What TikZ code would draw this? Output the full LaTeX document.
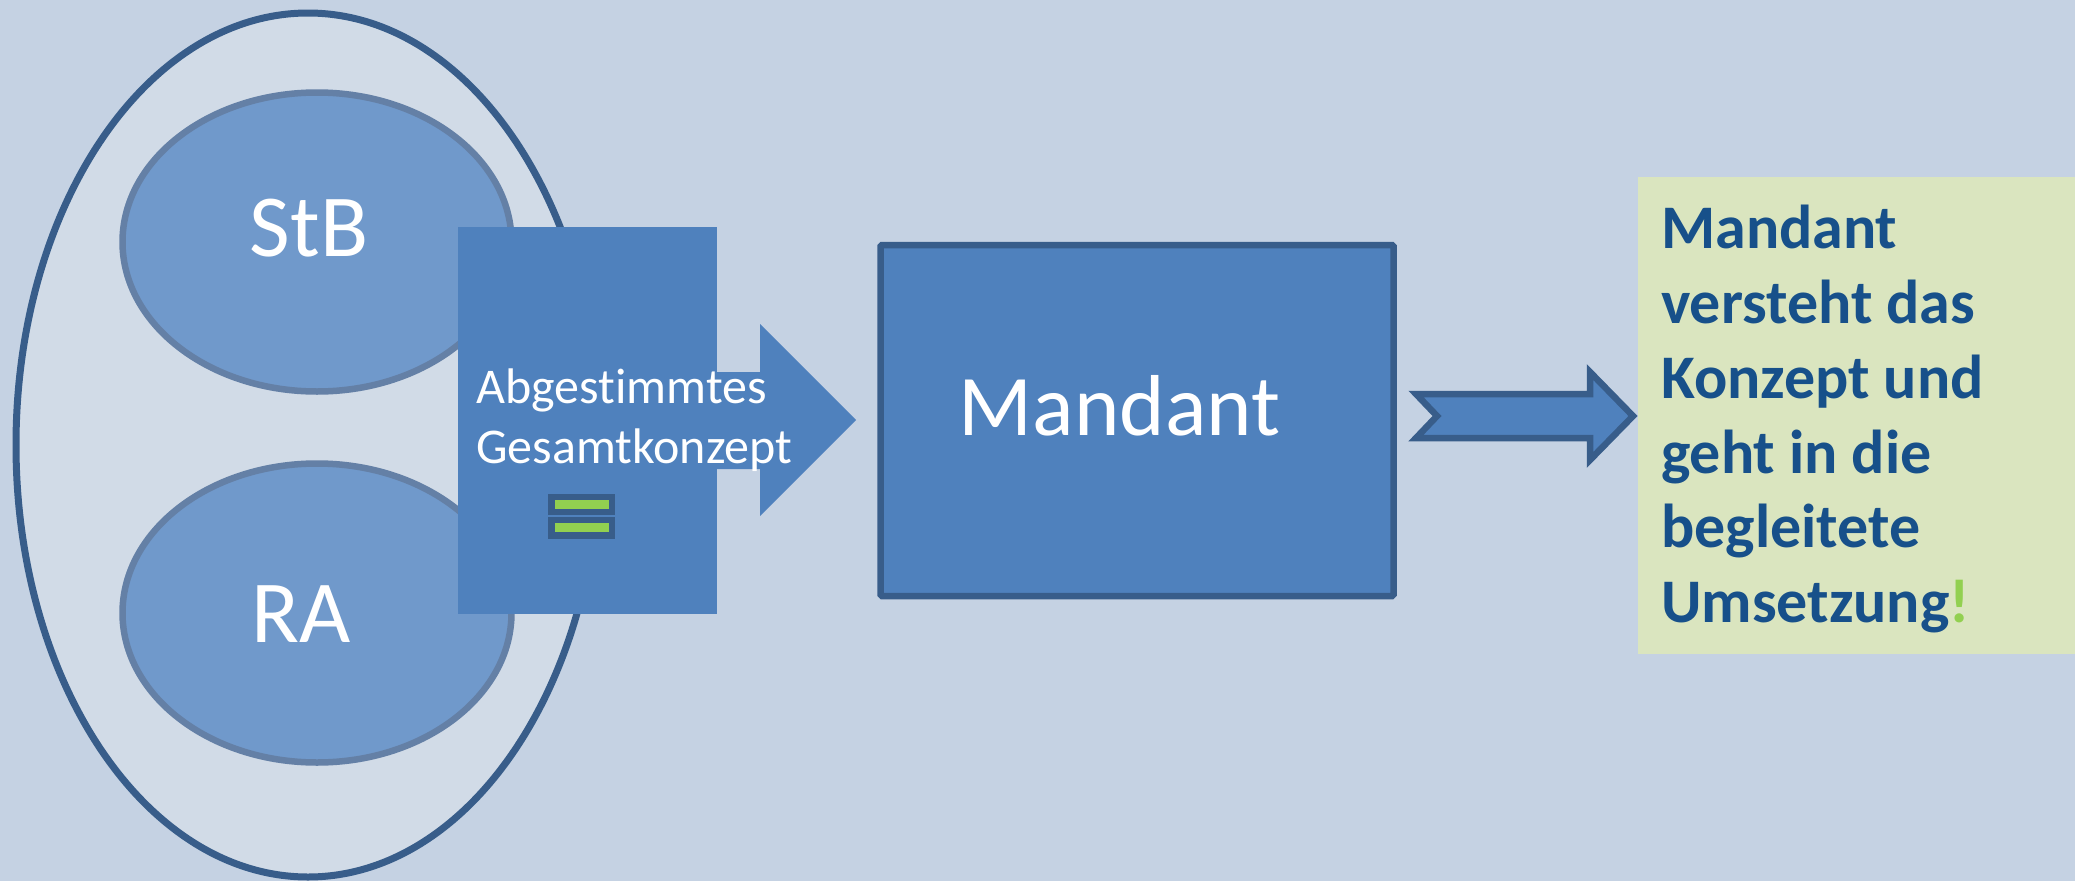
\documentclass[tikz,border=0pt]{standalone}
\usepackage{fontspec}
\setmainfont{Carlito}[Ligatures=CommonOff]
\usetikzlibrary{shapes.geometric}
\definecolor{bgc}{HTML}{C5D2E3}
\definecolor{outerfill}{HTML}{D1DBE7}
\definecolor{darkb}{HTML}{385D8A}
\definecolor{innerfill}{HTML}{7099CB}
\definecolor{innerline}{HTML}{6480A6}
\definecolor{mainb}{HTML}{4F81BD}
\definecolor{limeg}{HTML}{92D050}
\definecolor{paleg}{HTML}{DAE5BF}
\definecolor{textb}{HTML}{17508A}
\tikzset{
  x=1pt,y=-1pt,
  oval/.style={ellipse,draw=innerline,fill=innerfill,line width=6.5pt,minimum width=389pt,minimum height=299pt,inner sep=0pt},
  bigtext/.style={text=white,inner sep=0pt,anchor=base,font=\fontsize{88.5}{90}\selectfont},
}
\begin{document}
\begin{tikzpicture}
\useasboundingbox (0,0) rectangle (2075,881);
\fill[bgc] (0,0) rectangle (2075,881);
\node[ellipse,draw=darkb,fill=outerfill,line width=7pt,minimum width=584pt,minimum height=864pt,inner sep=0pt] (outer) at (308,445) {};
\node[oval] (stb) at (317,242) {};
\node[oval] (ra) at (317,613) {};
\node[bigtext] (stblabel) at (309,256) {StB};
\node[bigtext] (ralabel) at (301,642) {RA};
\fill[mainb] (458,227) rectangle (717,614);
\fill[mainb] (717,372) -- (760,372) -- (760,324) -- (856,420) -- (760,516) -- (760,469) -- (717,469) -- cycle;
\node[anchor=north west,inner sep=0pt,text=white,align=left,font=\fontsize{50}{60}\selectfont] (konzept) at (476,369) {Abgestimmtes\\Gesamtkonzept};
\fill[darkb] (548,494) rectangle (615,515);
\fill[darkb] (548,517) rectangle (615,539);
\fill[limeg] (555,500) rectangle (609,509);
\fill[limeg] (555,523) rectangle (609,532);
\node[draw=darkb,fill=mainb,line width=6.5pt,rounded corners=1.5pt,minimum width=513pt,minimum height=351pt,inner sep=0pt] (mandant) at (1137,420.5) {};
\node[bigtext,font=\fontsize{86.5}{90}\selectfont] (mandantlabel) at (1119.5,435) {Mandant};
\draw[draw=darkb,fill=mainb,line width=6.5pt,miter limit=10] (1416,394) -- (1590,394) -- (1590,372) -- (1633,416) -- (1590,460) -- (1590,438) -- (1416,438) -- (1437,416) -- cycle;
\fill[paleg] (1638,177) rectangle (2075,654);
\node[anchor=north west,inner sep=0pt,text=textb,align=left,font=\bfseries\fontsize{62}{74.8}\selectfont] (result) at (1661,205) {Mandant\\versteht das\\Konzept und\\geht in die\\begleitete\\Umsetzung\textcolor{limeg}{!}};
\end{tikzpicture}
\end{document}
